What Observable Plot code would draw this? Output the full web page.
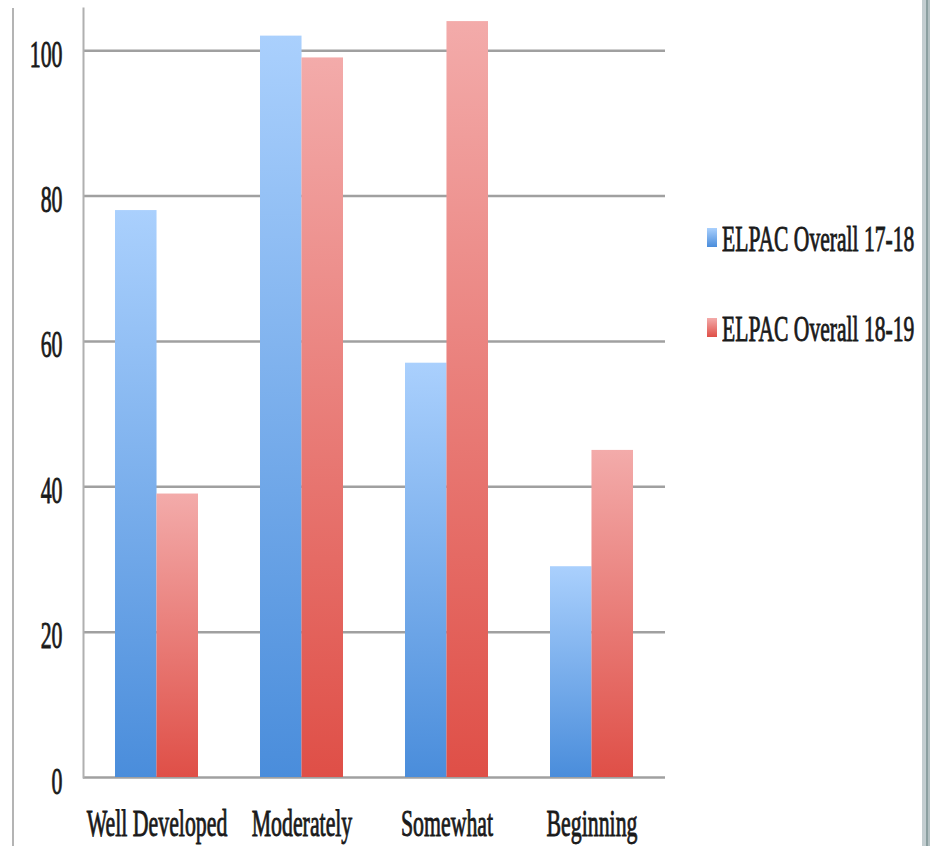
<!DOCTYPE html>
<html><head><meta charset="utf-8">
<script src="https://cdn.jsdelivr.net/npm/d3@7"></script>
<script src="https://cdn.jsdelivr.net/npm/@observablehq/plot@0.6"></script>
<style>
html,body{margin:0;padding:0;background:#fff;}
#wrap{position:relative;width:930px;height:846px;overflow:hidden;font-family:"Liberation Serif",serif;}
#wrap svg{position:absolute;left:0;top:0;}
.bl{position:absolute;left:12px;top:8px;width:2px;height:840px;background:#b4b4b4;}
.br1{position:absolute;left:922px;top:0;width:4px;height:846px;background:#c3cdd0;}
.br2{position:absolute;left:926px;top:0;width:2px;height:846px;background:#8b9fa0;}
.br3{position:absolute;left:928px;top:0;width:2px;height:846px;background:#b3c0c2;}
.sw{position:absolute;left:707px;width:10px;height:19px;}
.lt{position:absolute;left:722px;font-size:36px;line-height:35px;white-space:nowrap;color:#1a1a1a;transform:scaleX(0.6);transform-origin:0 0;-webkit-text-stroke:0.9px #1a1a1a;}
</style></head><body><div id="wrap"><div class="bl"></div></div>
<script>
const categories = ["Well Developed", "Moderately", "Somewhat", "Beginning"];
const series = ["ELPAC Overall 17-18", "ELPAC Overall 18-19"];
const values1718 = [78, 102, 57, 29];
const values1819 = [39, 99, 104, 45];
const yTicks = [0, 20, 40, 60, 80, 100];

const rows1718 = categories.map((c, i) => ({category: c, value: values1718[i], series: series[0]}));
const rows1819 = categories.map((c, i) => ({category: c, value: values1819[i], series: series[1]}));

const W = 930, H = 846, mL = 83, mR = 265, mT = 8, mB = 69;
const pi = 0.43, po = 0.215;
const step = (W - mL - mR) / (categories.length - pi + 2 * po);
const half = step * (1 - pi) / 2;

const gradBlue = ["#aad0fd", "#4a8ddb"];
const gradRed = ["#f3abaa", "#df4f47"];

const defs = () => {
  const ns = "http://www.w3.org/2000/svg";
  const d = document.createElementNS(ns, "defs");
  d.innerHTML = `<linearGradient id="gBlue" x1="0" y1="0" x2="0" y2="1"><stop offset="0" stop-color="${gradBlue[0]}"/><stop offset="1" stop-color="${gradBlue[1]}"/></linearGradient>
  <linearGradient id="gRed" x1="0" y1="0" x2="0" y2="1"><stop offset="0" stop-color="${gradRed[0]}"/><stop offset="1" stop-color="${gradRed[1]}"/></linearGradient>`;
  return d;
};

const svg = Plot.plot({
  width: W, height: H,
  marginLeft: mL, marginRight: mR, marginTop: mT, marginBottom: mB,
  style: {fontFamily: '"Liberation Serif", serif', background: "transparent", color: "#1a1a1a", overflow: "visible"},
  x: {domain: categories, paddingInner: pi, paddingOuter: po, axis: null},
  y: {domain: [0, 105.8], axis: null},
  marks: [
    defs,
    Plot.gridY(yTicks, {stroke: "#a0a0a0", strokeOpacity: 1, strokeWidth: 2.5}),
    Plot.frame({anchor: "left", stroke: "#b0b0b0", strokeWidth: 2}),
    Plot.barY(rows1718, {x: "category", y: "value", fill: "url(#gBlue)", insetRight: half}),
    Plot.barY(rows1819, {x: "category", y: "value", fill: "url(#gRed)", insetLeft: half}),
    Plot.axisY(yTicks, {tickSize: 0, tickPadding: 21, dy: 16, fontSize: 37, label: null}),
    Plot.axisX({tickSize: 0, tickPadding: 36, dy: 22, fontSize: 37, label: null})
  ]
});

svg.querySelectorAll("text").forEach(t => {
  const x = +t.getAttribute("x") || 0, y = +t.getAttribute("y") || 0;
  const tr = t.getAttribute("transform") || "";
  t.setAttribute("transform", `${tr} translate(${x},${y}) scale(0.59,1)`);
  t.removeAttribute("x"); t.removeAttribute("y");
  t.setAttribute("stroke", "#1a1a1a");
  t.setAttribute("stroke-width", "0.9");
});

const wrap = document.getElementById("wrap");
wrap.appendChild(svg);

const legTops = [222, 312];
series.forEach((s, i) => {
  const g = i === 0 ? gradBlue : gradRed;
  const sw = document.createElement("div");
  sw.className = "sw";
  sw.style.top = (legTops[i] + 6) + "px";
  sw.style.background = `linear-gradient(${g[0]}, ${g[1]})`;
  wrap.appendChild(sw);
  const lt = document.createElement("div");
  lt.className = "lt";
  lt.style.top = legTops[i] + "px";
  lt.textContent = s;
  wrap.appendChild(lt);
});

["br1", "br2", "br3"].forEach(c => {
  const d = document.createElement("div");
  d.className = c;
  wrap.appendChild(d);
});
</script>
</body></html>
